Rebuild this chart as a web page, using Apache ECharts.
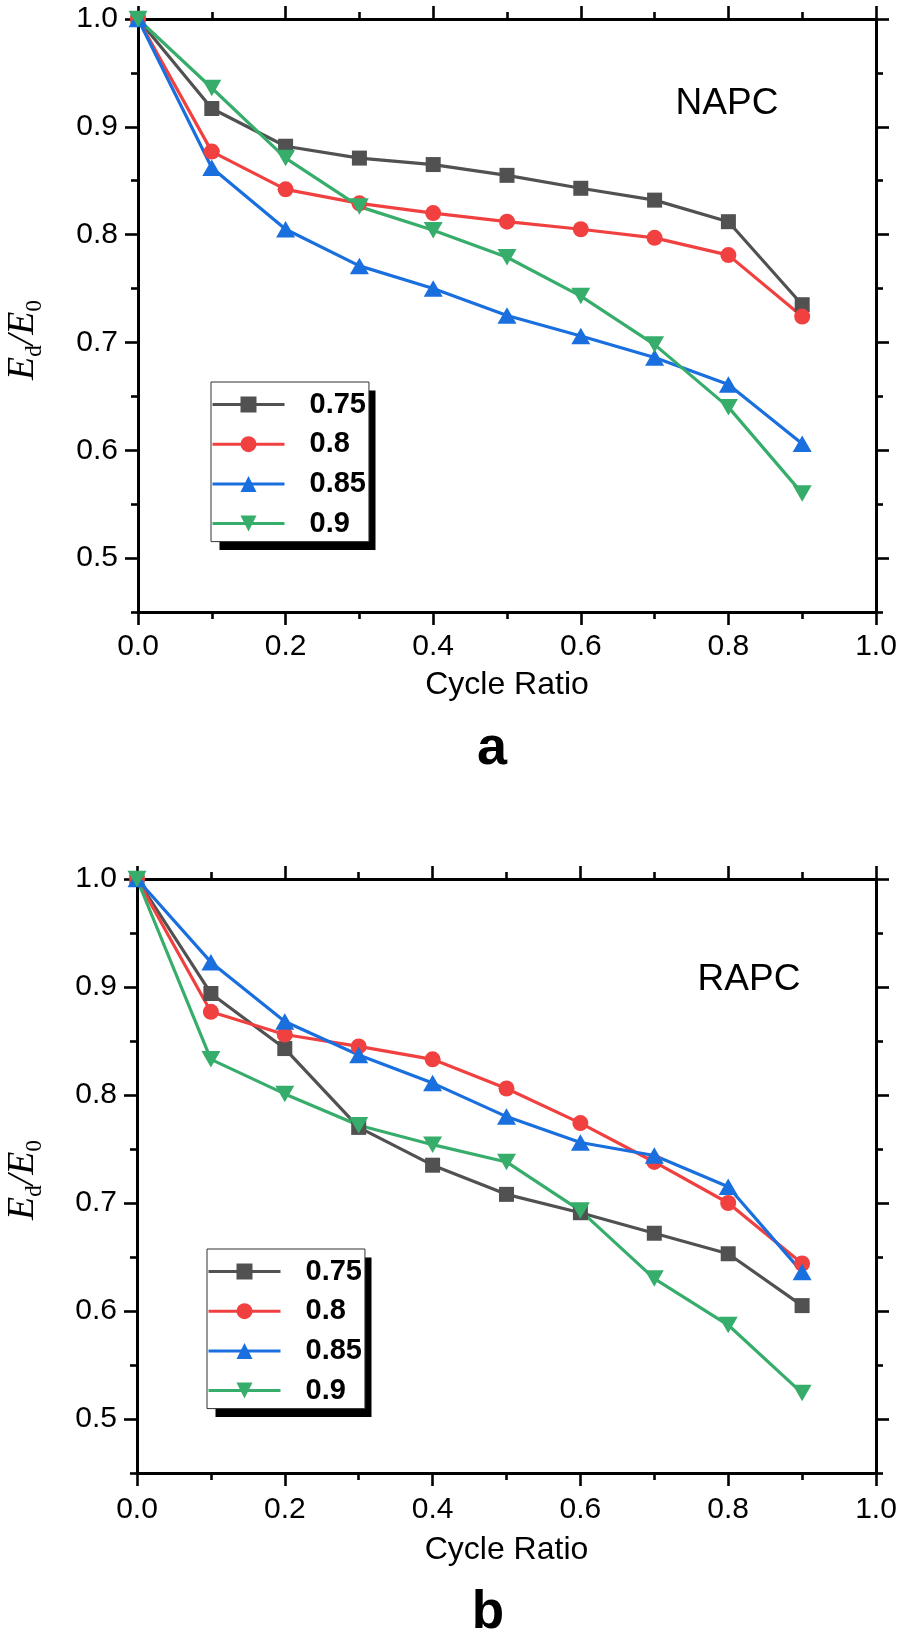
<!DOCTYPE html>
<html>
<head>
<meta charset="utf-8">
<script src="https://cdn.jsdelivr.net/npm/echarts@6/dist/echarts.min.js"></script>
<style>
html,body{margin:0;padding:0;background:#fff;}
#c{width:898px;height:1641px;}
</style>
</head>
<body>
<div id="c"></div>
<script>
// ---- data ----
const cycleRatio = [0, 0.1, 0.2, 0.3, 0.4, 0.5, 0.6, 0.7, 0.8, 0.9];
const seriesNames = ['0.75', '0.8', '0.85', '0.9'];

const napc075 = [1.0, 0.917, 0.882, 0.871, 0.865, 0.855, 0.843, 0.832, 0.812, 0.735];
const napc080 = [1.0, 0.877, 0.842, 0.829, 0.820, 0.812, 0.805, 0.797, 0.781, 0.724];
const napc085 = [1.0, 0.862, 0.805, 0.771, 0.750, 0.725, 0.706, 0.686, 0.661, 0.606];
const napc090 = [1.0, 0.936, 0.871, 0.826, 0.804, 0.779, 0.743, 0.698, 0.640, 0.560];

const rapc075 = [1.0, 0.894, 0.843, 0.770, 0.735, 0.708, 0.691, 0.672, 0.653, 0.605];
const rapc080 = [1.0, 0.877, 0.856, 0.845, 0.833, 0.806, 0.774, 0.738, 0.700, 0.644];
const rapc085 = [1.0, 0.923, 0.868, 0.837, 0.811, 0.780, 0.756, 0.744, 0.715, 0.636];
const rapc090 = [1.0, 0.833, 0.801, 0.772, 0.754, 0.738, 0.693, 0.630, 0.587, 0.524];

const yMajorTicks = [0.5, 0.6, 0.7, 0.8, 0.9, 1.0];
const yMinorTicks = [0.45, 0.55, 0.65, 0.75, 0.85, 0.95];
const panelTags = ['NAPC', 'RAPC'];
const panelLetters = ['a', 'b'];

// ---- styles ----
const colors = ['#515151', '#F14040', '#1A6FDF', '#37AD6B'];
const symbols = ['rect', 'circle', 'triangle', 'triangle'];
const symbolSizes = [15, 16, [19, 16.5], [19, 16.5]];
const symbolRotates = [0, 0, 0, 180];
const SANS = 'Liberation Sans, Arial, sans-serif';
const SERIF = 'Liberation Serif, Times New Roman, serif';

const chart = echarts.init(document.getElementById('c'), null, {renderer: 'canvas'});

const grids = [
  {left: 138, top: 19, width: 738, height: 593, outerBoundsMode: 'none', containLabel: false},
  {left: 137, top: 879, width: 739, height: 594, outerBoundsMode: 'none', containLabel: false}
];
const labelMargins = [20, 22];
const nameGaps = [57, 61];

const axisLineStyle = {color: '#000', width: 3};
const tickLineStyle = {color: '#000', width: 2.6};

const xAxis = [];
const yAxis = [];
grids.forEach((g, gi) => {
  xAxis.push({
    type: 'value', gridIndex: gi, position: 'bottom', min: 0, max: 1, interval: 0.2,
    axisLine: {show: true, onZero: false, lineStyle: axisLineStyle},
    axisTick: {show: true, inside: false, length: 13, lineStyle: tickLineStyle},
    minorTick: {show: true, splitNumber: 2, length: 7, lineStyle: tickLineStyle},
    splitLine: {show: false}, minorSplitLine: {show: false},
    axisLabel: {show: true, margin: labelMargins[gi], fontSize: 30, fontFamily: SANS, color: '#000',
      formatter: v => v.toFixed(1)},
    name: 'Cycle Ratio', nameLocation: 'middle', nameGap: nameGaps[gi],
    nameTextStyle: {fontSize: 32, fontFamily: SANS, color: '#000'}
  });
  xAxis.push({
    type: 'value', gridIndex: gi, position: 'top', min: 0, max: 1, interval: 0.2,
    axisLine: {show: true, onZero: false, lineStyle: axisLineStyle},
    axisTick: {show: true, inside: false, length: 13, lineStyle: tickLineStyle},
    minorTick: {show: true, splitNumber: 2, length: 7, lineStyle: tickLineStyle},
    splitLine: {show: false}, minorSplitLine: {show: false},
    axisLabel: {show: false}
  });
  ['left', 'right'].forEach(pos => {
    yAxis.push({
      type: 'value', gridIndex: gi, position: pos, min: 0.45, max: 1.0,
      axisLine: {show: true, onZero: false, lineStyle: axisLineStyle},
      axisTick: {show: true, inside: false, length: 13, lineStyle: tickLineStyle, customValues: yMajorTicks},
      splitLine: {show: false},
      axisLabel: {show: pos === 'left', customValues: yMajorTicks, margin: 20, fontSize: 30,
        fontFamily: SANS, color: '#000', formatter: v => v.toFixed(1)}
    });
    yAxis.push({
      type: 'value', gridIndex: gi, position: pos, min: 0.45, max: 1.0,
      axisLine: {show: false, onZero: false},
      axisTick: {show: true, inside: false, length: 7, lineStyle: tickLineStyle, customValues: yMinorTicks},
      splitLine: {show: false},
      axisLabel: {show: false, customValues: yMinorTicks}
    });
  });
});

const panelData = [
  [napc075, napc080, napc085, napc090],
  [rapc075, rapc080, rapc085, rapc090]
];
const series = [];
panelData.forEach((sets, gi) => {
  sets.forEach((vals, si) => {
    series.push({
      type: 'line', name: seriesNames[si],
      xAxisIndex: gi * 2, yAxisIndex: gi * 4,
      data: cycleRatio.map((x, i) => [x, vals[i]]),
      symbol: symbols[si], symbolSize: symbolSizes[si], symbolRotate: symbolRotates[si],
      showAllSymbol: true,
      lineStyle: {color: colors[si], width: 3.2},
      itemStyle: {color: colors[si], borderWidth: 0},
      emphasis: {disabled: true},
      animation: false
    });
  });
});

// legend boxes (outer rect incl. padding)
const legendBoxes = [
  {left: 211, top: 382, width: 156, height: 159.5},
  {left: 207, top: 1249, width: 156, height: 159.5}
];
const shadowOffset = 8.5;
const legend = legendBoxes.map(b => ({
  left: b.left, top: b.top, orient: 'vertical',
  data: seriesNames, selectedMode: false,
  itemWidth: 72, itemHeight: 20, itemGap: 9.7,
  padding: [7.5, 3, 3, 0],
  backgroundColor: '#fff', borderColor: '#333', borderWidth: 1,
  z: 10,
  lineStyle: {width: 3},
  textStyle: {fontSize: 29, fontWeight: 'bold', fontFamily: SANS, color: '#000',
    lineHeight: 30, padding: [0, 0, 0, 20]}
}));

const richY = {
  i: {fontFamily: SERIF, fontStyle: 'italic', fontSize: 38, fill: '#000', color: '#000'},
  s: {fontFamily: SERIF, fontSize: 23, fill: '#000', color: '#000', padding: [23, 0, 0, 0]}
};
const graphic = [
  ...legendBoxes.map(b => ({
    type: 'rect', z: 5,
    shape: {x: b.left + shadowOffset, y: b.top + shadowOffset, width: b.width, height: b.height},
    style: {fill: '#000'}
  })),
  {type: 'text', x: 23, y: 340, rotation: Math.PI / 2,
    style: {text: '{i|E}{s|d}{i|/E}{s|0}', rich: richY, align: 'center', verticalAlign: 'middle', fill: '#000'}},
  {type: 'text', x: 23, y: 1180, rotation: Math.PI / 2,
    style: {text: '{i|E}{s|d}{i|/E}{s|0}', rich: richY, align: 'center', verticalAlign: 'middle', fill: '#000'}},
  {type: 'text', x: 727, y: 104, style: {text: panelTags[0], font: '37px ' + SANS, align: 'center', verticalAlign: 'middle', fill: '#000'}},
  {type: 'text', x: 749, y: 980, style: {text: panelTags[1], font: '37px ' + SANS, align: 'center', verticalAlign: 'middle', fill: '#000'}},
  {type: 'text', x: 492, y: 749, style: {text: panelLetters[0], font: 'bold 54px ' + SANS, align: 'center', verticalAlign: 'middle', fill: '#000'}},
  {type: 'text', x: 488, y: 1613, style: {text: panelLetters[1], font: 'bold 53px ' + SANS, align: 'center', verticalAlign: 'middle', fill: '#000'}}
];

chart.setOption({
  animation: false,
  backgroundColor: '#fff',
  grid: grids,
  xAxis: xAxis,
  yAxis: yAxis,
  legend: legend,
  series: series,
  graphic: graphic
});
</script>
</body>
</html>
